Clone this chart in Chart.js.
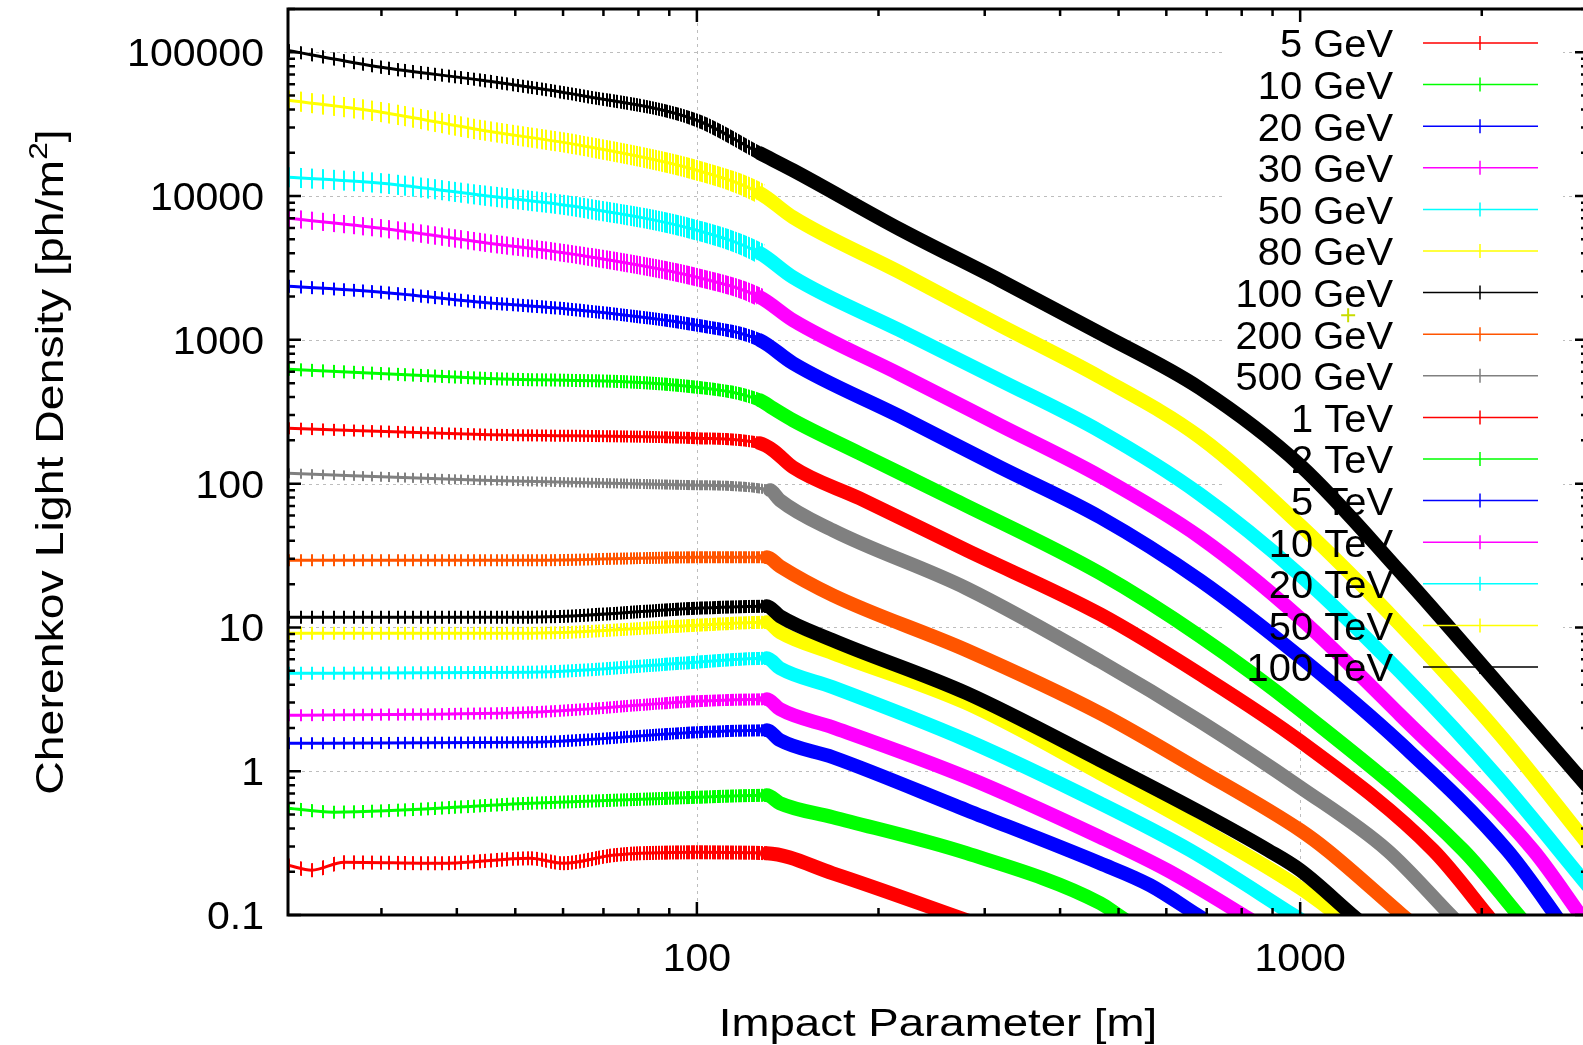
<!DOCTYPE html>
<html>
<head>
<meta charset="utf-8">
<title>Cherenkov Light Density</title>
<style>
  html, body { margin: 0; padding: 0; background: #fff; overflow: hidden; }
  #c { display: block; }
</style>
<script src="https://cdn.jsdelivr.net/npm/chart.js@4.4.1/dist/chart.umd.min.js"></script>
</head>
<body>
<canvas id="c" width="1600" height="1045"></canvas>
<script>
// ---- data: [impact parameter (m), density (ph/m^2)] ----
const seriesLabels = ['5 GeV', '10 GeV', '20 GeV', '30 GeV', '50 GeV', '80 GeV', '100 GeV', '200 GeV',
  '500 GeV', '1 TeV', '2 TeV', '5 TeV', '10 TeV', '20 TeV', '50 TeV', '100 TeV'];

const s5GeV = [[21,0.222],[23,0.205],[26,0.233],[38,0.229],[53,0.248],[60,0.229],[73,0.261],[100,0.273],[130.6,0.269],[168,0.195],[265,0.1],[295,0.085]];
const s10GeV = [[21,0.553],[25,0.519],[53,0.599],[100,0.659],[130.6,0.681],[137.3,0.599],[168,0.479],[280,0.269],[466,0.121],[499,0.1],[528,0.085]];
const s20GeV = [[21,1.566],[53,1.59],[100,1.867],[130.6,1.928],[137.3,1.643],[168,1.251],[280,0.536],[466,0.229],[564,0.161],[675,0.1],[717,0.085]];
const s30GeV = [[21,2.45],[53,2.57],[100,3.07],[130.6,3.17],[137.3,2.70],[168,2.02],[280,0.908],[466,0.348],[602,0.205],[804,0.1],[855,0.085]];
const s50GeV = [[21,4.80],[53,4.88],[100,5.73],[130.6,6.11],[137.3,5.20],[168,3.84],[280,1.643],[466,0.599],[657,0.282],[974,0.1],[1035,0.085]];
const s80GeV = [[21,9.11],[53,9.11],[100,10.36],[130.6,10.87],[137.3,9.26],[168,6.62],[280,2.97],[466,0.968],[682,0.402],[1000,0.154],[1152,0.1],[1210,0.085]];
const s100GeV = [[21,11.78],[53,11.78],[100,13.6],[130.6,14.04],[137.3,11.97],[168,8.15],[280,3.49],[466,1.193],[682,0.519],[885,0.282],[1000,0.205],[1220,0.1],[1277,0.085]];
const s200GeV = [[21,29.3],[53,29.3],[100,30.8],[130.6,30.8],[137.3,26.6],[168,16.75],[280,6.94],[466,2.53],[682,1.016],[1000,0.389],[1109,0.282],[1476,0.1],[1545,0.085]];
const s500GeV = [[21,118],[44,105.6],[100,97.5],[132.2,90.0],[137.3,76.7],[168,47.4],[280,18.7],[466,5.82],[682,2.227],[1000,0.774],[1394,0.282],[1774,0.1],[1842,0.085]];
const s1TeV = [[21,243],[44,220],[100,207],[127.2,191],[133.7,171],[144.3,130],[186,79.1],[280,34.4],[466,12.36],[682,4.73],[1000,1.617],[1662,0.282],[2042,0.1],[2106,0.085]];
const s2TeV = [[21,624],[44,541],[100,468],[127.2,380],[133.7,334],[144.3,276],[186,162.7],[268,76.7],[466,23.8],[682,8.69],[1000,2.66],[1864,0.282],[2299,0.1],[2374,0.085]];
const s5TeV = [[21,2360],[30,2143],[44,1825],[64,1606],[100,1264],[127.2,994],[144.3,688],[217,294],[318,130],[466,58.4],[682,21.3],[1000,6.21],[1466,1.566],[2204,0.282],[2648,0.1],[2719,0.085]];
const s10TeV = [[21,7010],[30,5970],[44,4775],[64,3873],[100,2725],[127.2,1978],[144.3,1368],[217,577],[318,255],[466,112.6],[682,42.4],[1000,11.59],[1466,2.452],[2434,0.282],[2913,0.1],[3000,0.084]];
const s20TeV = [[21,13520],[30,12270],[44,10130],[64,8350],[100,5784],[127.2,4002],[144.3,2725],[217,1166],[318,524],[466,231.4],[682,84.4],[1000,23.1],[1466,4.88],[2147,0.866],[3000,0.159]];
const s50TeV = [[21,46400],[30,38300],[44,28700],[64,22560],[100,15115],[127.2,10460],[144.3,7122],[217,2951],[318,1264],[466,549.5],[682,210.2],[1000,51.4],[1466,10.36],[2147,1.78],[3000,0.311]];
const s100TeV = [[21,103000],[30,78700],[44,63900],[64,50200],[100,33660],[127.2,19850],[144.3,15115],[217,5877],[318,2597],[466,1111],[682,460.7],[1000,134.3],[1466,24.2],[2147,3.90],[3000,0.774]];

const seriesData = [s5GeV, s10GeV, s20GeV, s30GeV, s50GeV, s80GeV, s100GeV, s200GeV,
  s500GeV, s1TeV, s2TeV, s5TeV, s10TeV, s20TeV, s50TeV, s100TeV];

// odd stray marker sitting over the key
const strayPoint = [[1201, 1483]];

const yTickValues = [0.1, 1, 10, 100, 1000, 10000, 100000];
const yTickLabels = ['0.1', '1', '10', '100', '1000', '10000', '100000'];
const xTickValues = [100, 1000];
const xTickLabels = ['100', '1000'];

// ---- styles ----
const seriesColors = ['#ff0000', '#00ff00', '#0000ff', '#ff00ff', '#00ffff', '#ffff00', '#000000', '#ff5500',
  '#808080', '#ff0000', '#00ff00', '#0000ff', '#ff00ff', '#00ffff', '#ffff00', '#000000'];
const hatchWidths = [14, 13, 12, 12, 13, 13, 13, 12, 10, 12, 13, 13, 18, 20, 20, 13];

const FONT = '"Liberation Sans", Arial, Helvetica, sans-serif';
const PLOT = { left: 288, right: 1588, top: 9, bottom: 915 };
const KNEE = 133;       // m, end of the flat part
const legendBox = { left: 1223, right: 1563, top: 20, bottom: 700 };

const canvas = document.getElementById('c');
const mainCtx = canvas.getContext('2d');

// vertical stripe texture standing in for the error bars of the flat part
function makeHatch(color) {
  const c = document.createElement('canvas');
  c.width = canvas.width;
  c.height = 1;
  const g = c.getContext('2d');
  g.fillStyle = color;
  let p = PLOT.left;
  while (p < 800) {
    g.fillRect(Math.round(p), 0, 2, 1);
    p += Math.max(2.6, 12 * Math.pow(10, -(p - PLOT.left) / 603));
  }
  return mainCtx.createPattern(c, 'repeat');
}

const N = seriesData.length;
const datasets = [];
seriesData.forEach(function(pts, i) {
  const data = pts.map(function(p) { return { x: p[0], y: p[1] }; });
  const hatch = makeHatch(seriesColors[i]);
  datasets.push({
    label: seriesLabels[i],
    data: data,
    borderColor: seriesColors[i],
    borderWidth: 14,
    borderCapStyle: 'round',
    borderJoinStyle: 'round',
    cubicInterpolationMode: 'monotone',
    pointRadius: 0,
    fill: false,
    clip: 0,
    order: 2 * (N - i),
    segment: {
      borderWidth: function(ctx) { return ctx.p1.parsed.x <= KNEE ? 3 : 14; }
    }
  });
  datasets.push({
    label: '',
    isHatch: true,
    data: data,
    borderColor: 'rgba(0,0,0,0)',
    borderWidth: hatchWidths[i],
    cubicInterpolationMode: 'monotone',
    pointRadius: 0,
    fill: false,
    clip: 0,
    order: 2 * (N - i) + 1,
    segment: {
      borderColor: function(ctx) { return ctx.p1.parsed.x <= KNEE ? hatch : 'rgba(0,0,0,0)'; }
    }
  });
});
datasets.push({
  label: '',
  isHatch: true,
  data: strayPoint.map(function(p) { return { x: p[0], y: p[1] }; }),
  showLine: false,
  pointStyle: 'cross',
  pointRadius: 7,
  pointBorderWidth: 2,
  pointBorderColor: '#c8dc00',
  order: 0
});

function F(size) { return size + 'px ' + FONT; }

function stretchedText(ctx, str, x, y, align, sx) {
  ctx.save();
  ctx.translate(x, y);
  ctx.scale(sx, 1);
  ctx.textAlign = align;
  ctx.fillText(str, 0, 0);
  ctx.restore();
}

const framePlugin = {
  id: 'frame',
  beforeDatasetsDraw(chart) {
    const ctx = chart.ctx;
    const a = chart.chartArea;
    const xs = chart.scales.x, ys = chart.scales.y;
    ctx.save();
    ctx.beginPath();
    ctx.rect(a.left, a.top, a.right - a.left, a.bottom - a.top);
    ctx.rect(legendBox.left, legendBox.top, legendBox.right - legendBox.left, legendBox.bottom - legendBox.top);
    ctx.clip('evenodd');
    ctx.strokeStyle = '#bdbdbd';
    ctx.lineWidth = 1;
    ctx.setLineDash([3, 4]);
    yTickValues.forEach(function(v) {
      const py = Math.round(ys.getPixelForValue(v)) + 0.5;
      ctx.beginPath(); ctx.moveTo(a.left, py); ctx.lineTo(a.right, py); ctx.stroke();
    });
    xTickValues.forEach(function(v) {
      const px = Math.round(xs.getPixelForValue(v)) + 0.5;
      ctx.beginPath(); ctx.moveTo(px, a.top); ctx.lineTo(px, a.bottom); ctx.stroke();
    });
    ctx.restore();
  },
  afterDatasetsDraw(chart) {
    const ctx = chart.ctx;
    const a = chart.chartArea;
    const xs = chart.scales.x, ys = chart.scales.y;
    ctx.save();

    // ticks, inward on all four sides
    ctx.strokeStyle = '#000';
    ctx.lineWidth = 2.5;
    ctx.setLineDash([]);
    for (let d = -1; d <= 5; d++) {
      for (let m = 1; m <= 9; m++) {
        const v = m * Math.pow(10, d);
        if (v < 0.1 || v > 200000) continue;
        const len = m === 1 ? 13 : 7;
        const py = ys.getPixelForValue(v);
        ctx.beginPath();
        ctx.moveTo(a.left, py); ctx.lineTo(a.left + len, py);
        ctx.moveTo(a.right, py); ctx.lineTo(a.right - len, py);
        ctx.stroke();
      }
    }
    for (let d = 1; d <= 3; d++) {
      for (let m = 1; m <= 9; m++) {
        const v = m * Math.pow(10, d);
        if (v < 21 || v > 3000) continue;
        const len = m === 1 ? 13 : 7;
        const px = xs.getPixelForValue(v);
        ctx.beginPath();
        ctx.moveTo(px, a.bottom); ctx.lineTo(px, a.bottom - len);
        ctx.moveTo(px, a.top); ctx.lineTo(px, a.top + len);
        ctx.stroke();
      }
    }

    // border
    ctx.lineWidth = 3;
    ctx.strokeRect(a.left, a.top, a.right - a.left, a.bottom - a.top);

    // tick labels
    ctx.fillStyle = '#000';
    ctx.font = F(38);
    ctx.textBaseline = 'middle';
    yTickValues.forEach(function(v, k) {
      stretchedText(ctx, yTickLabels[k], 264, ys.getPixelForValue(v) + 3.5, 'right', 1.08);
    });
    xTickValues.forEach(function(v, k) {
      stretchedText(ctx, xTickLabels[k], xs.getPixelForValue(v), 961, 'center', 1.08);
    });

    // axis titles
    stretchedText(ctx, 'Impact Parameter [m]', (a.left + a.right) / 2, 1026, 'center', 1.2);

    ctx.save();
    ctx.translate(53, (a.top + a.bottom) / 2);
    ctx.rotate(-Math.PI / 2);
    ctx.scale(1.222, 1);
    const t1 = 'Cherenkov Light Density [ph/m';
    ctx.font = F(38); const w1 = ctx.measureText(t1).width;
    ctx.font = F(26); const w2 = ctx.measureText('2').width;
    ctx.font = F(38); const w3 = ctx.measureText(']').width;
    const x0 = -(w1 + w2 + w3) / 2;
    ctx.textAlign = 'left';
    ctx.fillText(t1, x0, 0);
    ctx.font = F(26); ctx.fillText('2', x0 + w1, -13);
    ctx.font = F(38); ctx.fillText(']', x0 + w1 + w2, 0);
    ctx.restore();

    // key
    const items = chart.data.datasets.filter(function(ds) { return !ds.isHatch; });
    items.forEach(function(ds, k) {
      const y = 43 + k * 41.6;
      ctx.fillStyle = '#000';
      ctx.font = F(38);
      stretchedText(ctx, ds.label, 1393, y + 4, 'right', 1.05);
      ctx.strokeStyle = ds.borderColor;
      ctx.lineWidth = 1.5;
      ctx.beginPath();
      ctx.moveTo(1423, y); ctx.lineTo(1538, y);
      ctx.moveTo(1480, y - 7); ctx.lineTo(1480, y + 7);
      ctx.stroke();
    });
    ctx.restore();
  }
};

new Chart(canvas, {
  type: 'line',
  data: { datasets: datasets },
  options: {
    responsive: false,
    animation: false,
    devicePixelRatio: 1,
    events: [],
    layout: { padding: { left: PLOT.left, right: canvas.width - PLOT.right, top: PLOT.top, bottom: canvas.height - PLOT.bottom } },
    plugins: { legend: { display: false }, tooltip: { enabled: false }, title: { display: false } },
    scales: {
      x: { type: 'logarithmic', min: 21, max: 3000, display: false },
      y: { type: 'logarithmic', min: 0.1, max: 200000, display: false }
    }
  },
  plugins: [framePlugin]
});
</script>
</body>
</html>
